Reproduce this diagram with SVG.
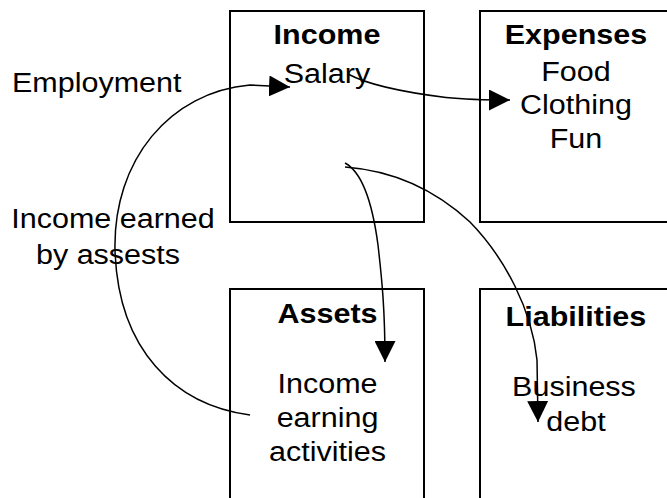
<svg xmlns="http://www.w3.org/2000/svg" width="667" height="498" viewBox="0 0 667 498">
  <style>
    .box { fill: #ffffff; stroke: #000000; stroke-width: 2; }
    .t { font-family: "Liberation Sans", Arial, sans-serif; font-size: 28px; fill: #000000; }
    .c { text-anchor: middle; }
    .b { font-weight: bold; }
    .link { fill: none; stroke: #000000; stroke-width: 1.5; marker-end: url(#head); }
  </style>
  <defs>
    <marker id="head" markerUnits="userSpaceOnUse" viewBox="0 0 21 21" markerWidth="21" markerHeight="21" refX="21" refY="10.5" orient="auto">
      <path d="M0,0 L21,10.5 L0,21 Z" fill="#000000"/>
    </marker>
  </defs>
  <rect width="667" height="498" fill="#ffffff"/>

  <!-- text is set slightly wide: x values are divided by the 1.09 stretch -->
  <g id="income">
    <rect class="box" x="230" y="11" width="194" height="211"/>
    <g transform="scale(1.09 1)">
      <text class="t b c" x="300" y="44">Income</text>
      <text class="t c" x="300" y="83">Salary</text>
    </g>
  </g>

  <g id="expenses">
    <rect class="box" x="480" y="11" width="200" height="211"/>
    <g transform="scale(1.09 1)">
      <text class="t b c" x="528.4" y="44">Expenses</text>
      <text class="t c" x="528.4" y="81">Food</text>
      <text class="t c" x="528.4" y="114">Clothing</text>
      <text class="t c" x="528.4" y="148">Fun</text>
    </g>
  </g>

  <g id="assets">
    <rect class="box" x="230" y="289" width="194" height="220"/>
    <g transform="scale(1.09 1)">
      <text class="t b c" x="300.5" y="323">Assets</text>
      <text class="t c" x="300.5" y="393">Income</text>
      <text class="t c" x="300.5" y="427">earning</text>
      <text class="t c" x="300.5" y="461">activities</text>
    </g>
  </g>

  <g id="liabilities">
    <rect class="box" x="480" y="289" width="200" height="220"/>
    <g transform="scale(1.09 1)">
      <text class="t b c" x="528.4" y="326">Liabilities</text>
      <text class="t c" x="526.6" y="396">Business</text>
      <text class="t c" x="528.4" y="431">debt</text>
    </g>
  </g>

  <g id="labels" transform="scale(1.09 1)">
    <text class="t" x="11" y="92">Employment</text>
    <text class="t c" x="103.7" y="228">Income earned</text>
    <text class="t c" x="99.1" y="264">by assests</text>
  </g>

  <g id="connectors">
    <path class="link" d="M250,415 C175,405 118,350 115,250 C113,160 170,92 250,85 L290,87"/>
    <path class="link" d="M348,74 C370,86 410,93 446,97.5 C470,100 490,100 510,100"/>
    <path class="link" d="M345,163 C362,172 372,200 378,245 C382,280 385,310 385,362"/>
    <path class="link" d="M345,167 C385,170 430,185 470,222 C505,258 532,310 537,360 L538,422"/>
  </g>
</svg>
